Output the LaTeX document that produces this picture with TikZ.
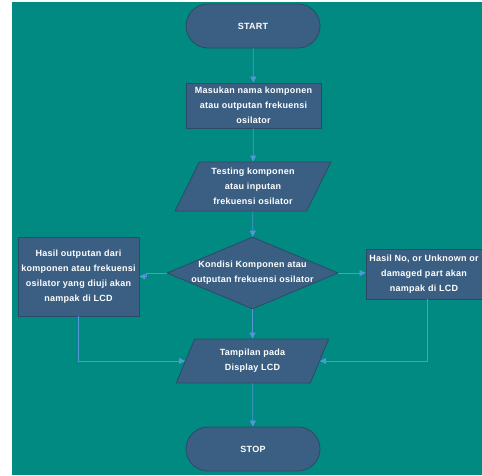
\documentclass[tikz,border=0pt]{standalone}
\usepackage{fontspec}
\newfontfamily\lblfont{Liberation Sans}[LetterSpace=3]
\usetikzlibrary{shapes.geometric,arrows.meta}
\definecolor{bgteal}{HTML}{008A82}
\definecolor{nodefill}{HTML}{3B5F82}
\definecolor{nodeline}{HTML}{2C4A68}
\definecolor{conn}{HTML}{5496D6}
\tikzset{
  base/.style={fill=nodefill, draw=nodeline, line width=0.8pt, inner sep=0pt},
  txt/.style={text=white, font=\lblfont\bfseries\fontsize{9}{15}\selectfont, align=center, inner sep=0pt},
  term/.style={base, txt, rectangle, rounded corners=22pt, minimum width=134pt, minimum height=44pt},
  proc/.style={base, txt, rectangle},
  io/.style n args={3}{base, txt, inner sep=2pt, trapezium, trapezium left angle=#1, trapezium right angle=#2,
     trapezium stretches=true, minimum width=#3},
  dec/.style={base, diamond, minimum width=171pt, minimum height=72pt},
  conn/.style={draw=conn, line width=0.7pt, -{Triangle[length=6pt,width=6pt]}}
}
\begin{document}
\begin{tikzpicture}[x=1pt,y=-1pt]
\useasboundingbox (0,0) rectangle (482,475);
\fill[bgteal] (12,2) rectangle (482,475);

\node[term] (start) at (253,26) {START};
\node[proc, minimum width=135pt, minimum height=45pt] (b1) at (253.5,105.5)
  {Masukan nama komponen\\atau outputan frekuensi\\osilator};
\node[io={64}{116}{156pt}, minimum height=49pt] (p1) at (253,186.5)
  {Testing komponen\\atau inputan\\frekuensi osilator};
\node[dec, label={[txt]center:Kondisi Komponen atau\\outputan frekuensi osilator}] (d) at (252.5,273) {};
\node[proc, minimum width=121pt, minimum height=79pt] (lb) at (78.5,276.5)
  {Hasil outputan dari\\komponen atau frekuensi\\osilator yang diuji akan\\nampak di LCD};
\node[proc, minimum width=116pt, minimum height=50pt] (rb) at (424,274)
  {Hasil No, or Unknown or\\damaged part akan\\nampak di LCD};
\node[io={68}{112}{153pt}, minimum height=44pt] (p2) at (252.5,361)
  {Tampilan pada\\Display LCD};
\node[term] (stop) at (253,449) {STOP};

\draw[conn] (start) -- (b1);
\draw[conn] (b1) -- (p1);
\draw[conn] (p1) -- (d);
\draw[conn] (d.west) -- ++(-20,0) |- (lb.east);
\draw[conn] (d.east) -- (rb.west |- d.east);
\draw[conn] (d) -- (p2);
\draw[conn] (lb.south) |- (p2.west);
\draw[conn] ([xshift=3pt]rb.south) |- (p2.east);
\draw[conn] (p2) -- (stop);
\end{tikzpicture}
\end{document}
